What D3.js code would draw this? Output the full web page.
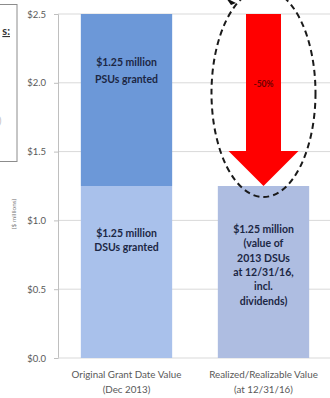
<!DOCTYPE html>
<html>
<head>
<meta charset="utf-8">
<script src="https://cdn.jsdelivr.net/npm/d3@7/dist/d3.min.js"></script>
<style>
  html, body { margin: 0; padding: 0; background: #fff; }
  svg { display: block; font-family: Lato, "Open Sans", sans-serif; }
</style>
</head>
<body>
<svg id="chart" width="330" height="398"></svg>
<script>
// Grant value vs. realized value of the 2013 equity award ($ millions)
const categories = ["Original Grant Date Value", "Realized/Realizable Value"];
const categorySub = ["(Dec 2013)", "(at 12/31/16)"];
const dsuValues = [1.25, 1.25];
const psuValues = [1.25, 0];
const yTicks = [0, 0.5, 1.0, 1.5, 2.0, 2.5];
const changeLabel = "-50%";
const dsuLabels = [
  ["$1.25 million", "DSUs granted"],
  ["$1.25 million", "(value of", "2013 DSUs", "at 12/31/16,", "incl.", "dividends)"]
];
const psuLabels = [["$1.25 million", "PSUs granted"], []];

const svg = d3.select("#chart");

const y = d3.scaleLinear().domain([0, 2.5]).range([358, 14]);
const x = d3.scaleBand().domain(categories).range([58, 332])
  .paddingInner(1 / 3).paddingOuter(1 / 6);

// left-hand callout box (partially outside the frame)
const box = svg.append("g");
box.append("rect").attr("x", -40).attr("y", 4.5).attr("width", 57).attr("height", 157)
  .attr("fill", "#fff").attr("stroke", "#8c8c8c").attr("stroke-width", 1);
box.append("text").attr("x", 10).attr("y", 35).attr("text-anchor", "end")
  .attr("font-size", 11).attr("font-weight", "bold").attr("fill", "#333")
  .attr("text-decoration", "underline").text("s:");
box.append("text").attr("x", -1).attr("y", 124)
  .attr("font-size", 9).attr("fill", "#bbb").text(")");

// gridlines
svg.append("g").selectAll("line").data(yTicks.filter(d => d > 0)).join("line")
  .attr("x1", 58).attr("x2", 332)
  .attr("y1", d => y(d)).attr("y2", d => y(d))
  .attr("stroke", "#d9d9d9").attr("stroke-width", 1);

// y axis
const yAxis = svg.append("g").attr("transform", "translate(58,0)")
  .call(d3.axisLeft(y).tickValues(yTicks).tickSize(4).tickPadding(8)
    .tickFormat(d => "$" + d3.format(".1f")(d)));
yAxis.select(".domain").attr("stroke", "#bfbfbf");
yAxis.selectAll(".tick line").attr("stroke", "#bfbfbf");
yAxis.selectAll(".tick text").attr("fill", "#595959").attr("font-size", 9.5)
  .attr("font-family", "Lato, sans-serif");

svg.append("text").attr("transform", "translate(16,214) rotate(-90)")
  .attr("text-anchor", "middle").attr("font-size", 6.5).attr("fill", "#808080")
  .text("($ millions)");

// baseline
svg.append("line").attr("x1", 58).attr("x2", 332).attr("y1", y(0)).attr("y2", y(0))
  .attr("stroke", "#d9d9d9");

// bars
const dsuColors = ["#a9c1eb", "#aebde1"];
svg.append("g").selectAll("rect").data(categories).join("rect")
  .attr("x", d => x(d)).attr("width", x.bandwidth())
  .attr("y", (d, i) => y(dsuValues[i]))
  .attr("height", (d, i) => y(0) - y(dsuValues[i]))
  .attr("fill", (d, i) => dsuColors[i]);

svg.append("g").selectAll("rect").data(categories.filter((d, i) => psuValues[i] > 0)).join("rect")
  .attr("x", d => x(d)).attr("width", x.bandwidth())
  .attr("y", d => { const i = categories.indexOf(d); return y(dsuValues[i] + psuValues[i]); })
  .attr("height", d => { const i = categories.indexOf(d); return y(dsuValues[i]) - y(dsuValues[i] + psuValues[i]); })
  .attr("fill", "#6c98d8");

// bar labels
function barLabel(lines, cx, topY, offset, step) {
  const t = svg.append("text").attr("text-anchor", "middle")
    .attr("font-size", 10.5).attr("font-weight", "bold").attr("fill", "#1c2744");
  lines.forEach((s, k) => {
    t.append("tspan").attr("x", cx).attr("y", topY + offset + k * step).text(s);
  });
}
categories.forEach((c, i) => {
  const cx = x(c) + x.bandwidth() / 2;
  if (psuValues[i] > 0) barLabel(psuLabels[i], cx, y(dsuValues[i] + psuValues[i]), 52, 16.5);
  barLabel(dsuLabels[i], cx, y(dsuValues[i]), i === 0 ? 51 : 47, 14.3);
});

// x axis labels
categories.forEach((c, i) => {
  const cx = x(c) + x.bandwidth() / 2;
  const t = svg.append("text").attr("text-anchor", "middle").attr("font-size", 9.8)
    .attr("fill", "#595959");
  t.append("tspan").attr("x", cx).attr("y", 378).text(c);
  t.append("tspan").attr("x", cx).attr("y", 393).text(categorySub[i]);
});

// decline arrow from the original total down to the realized value
const ax = x(categories[1]) + x.bandwidth() / 2;
const aTop = y(dsuValues[0] + psuValues[0]);
const aTip = y(dsuValues[1] + psuValues[1]);
const shaftHalf = 17.5, headHalf = 35, headLen = 35;
const arrow = d3.path();
arrow.moveTo(ax - shaftHalf, aTop);
arrow.lineTo(ax + shaftHalf, aTop);
arrow.lineTo(ax + shaftHalf, aTip - headLen);
arrow.lineTo(ax + headHalf, aTip - headLen);
arrow.lineTo(ax, aTip);
arrow.lineTo(ax - headHalf, aTip - headLen);
arrow.lineTo(ax - shaftHalf, aTip - headLen);
arrow.closePath();
svg.append("path").attr("d", arrow.toString()).attr("fill", "#ff0000");
svg.append("text").attr("x", ax).attr("y", 87).attr("text-anchor", "middle")
  .attr("font-size", 8.5).attr("font-weight", "bold").attr("fill", "#6e0000")
  .text(changeLabel);

// dashed ellipse around the arrow
svg.append("ellipse").attr("cx", ax).attr("cy", 93).attr("rx", 52).attr("ry", 104)
  .attr("fill", "none").attr("stroke", "#1a1a1a").attr("stroke-width", 2)
  .attr("stroke-dasharray", "6,4");

// pointer tip entering from above
svg.append("path").attr("d", "M226,-2 L236,3 L231,5 Z").attr("fill", "#111");
</script>
</body>
</html>
